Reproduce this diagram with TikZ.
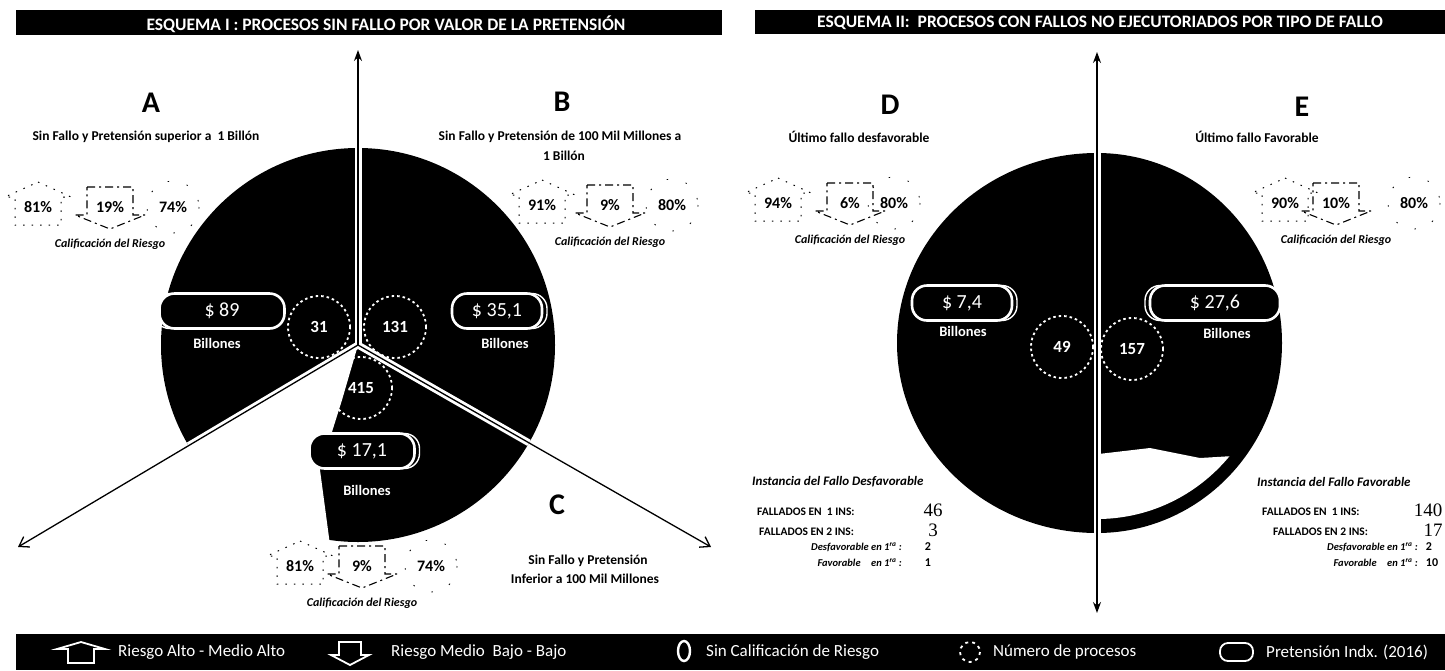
\documentclass[tikz,border=0pt]{standalone}
\usepackage{fontspec}
\setmainfont{Carlito}
\newfontfamily\numfont{Liberation Serif}
\usetikzlibrary{arrows.meta}
\tikzset{
  hdrbar/.style={fill=black},
  hdrtext/.style={text=white,font=\fontsize{17.5}{19}\selectfont\bfseries,inner sep=0pt},
  bigletter/.style={font=\fontsize{30}{32}\selectfont\bfseries,inner sep=0pt},
  capt/.style={font=\fontsize{13.5}{15}\selectfont\bfseries,inner sep=0pt},
  pct/.style={font=\fontsize{16}{17}\selectfont\bfseries,inner sep=0pt},
  califtxt/.style={font=\fontsize{12}{13}\selectfont\bfseries\itshape,inner sep=0pt},
  riskup/.style={draw=black,line width=1pt,dash pattern=on 1.5pt off 7pt},
  riskdown/.style={draw=black,line width=1.1pt,dash pattern=on 8pt off 4pt on 2pt off 4pt},
  riskcirc/.style={draw=black,line width=0.8pt,dash pattern=on 1.5pt off 18pt},
  piefill/.style={fill=black},
  sepband/.style={draw=white,line width=7pt},
  axisline/.style={draw=black,line width=1.3pt},
  numcirc/.style={circle,draw=white,line width=1.8pt,dash pattern=on 2.5pt off 3pt,minimum size=62pt,inner sep=0pt,text=white,font=\fontsize{17}{18}\selectfont\bfseries},
  pillbox/.style={draw=white,line width=2.6pt,fill=black,rounded corners=15pt,text=white,font=\fontsize{20}{22}\selectfont,inner sep=0pt,minimum height=35pt},
  pillghost/.style={draw=white,line width=1.4pt,rounded corners=15pt},
  billtxt/.style={text=white,font=\fontsize{14.5}{15}\selectfont\bfseries,inner sep=0pt},
  insttxt/.style={font=\fontsize{13}{14}\selectfont\bfseries\itshape,inner sep=0pt,anchor=west},
  falltxt/.style={font=\fontsize{11.5}{12}\selectfont\bfseries,inner sep=0pt,anchor=west},
  bignum/.style={font=\numfont\fontsize{19}{20}\selectfont,inner sep=0pt},
  subtxt/.style={font=\fontsize{10.5}{12}\selectfont\bfseries\itshape,inner sep=0pt,anchor=east},
  smallnum/.style={font=\fontsize{12}{13}\selectfont\bfseries,inner sep=0pt},
  legbar/.style={fill=black},
  legtext/.style={text=white,font=\fontsize{17}{18}\selectfont,inner sep=0pt,anchor=west},
  legicon/.style={draw=white,line width=1.8pt},
}
% risk indicator: name, m, y0, dl, dr, left, mid, right
\newcommand\riskind[8]{%
  \begin{scope}[shift={(#2,#3)}]
    \draw[riskup] (#4,-25) -- (#4+33,-10) -- (#4+23,-10) -- (#4+23,18) -- (#4-23,18) -- (#4-23,-10) -- (#4-33,-10) -- cycle;
    \draw[riskdown] (-23,-20) -- (23,-20) -- (23,8) -- (35,8) -- (0,22) -- (-35,8) -- (-23,8) -- cycle;
    \draw[riskcirc] (#5,0) circle (26);
    \node[pct] (#1l) at (#4,0) {#6};
    \node[pct] (#1m) at (0,0) {#7};
    \node[pct] (#1r) at (#5,0) {#8};
    \node[califtxt] (#1c) at (0,37) {Calificación del Riesgo};
  \end{scope}}
% pill: name, x, y, width, ghost dx, text
\newcommand\pillnode[6]{%
  \draw[pillghost] (#2-#4/2+#5,#3-17.5) rectangle (#2+#4/2+#5,#3+17.5);
  \node[pillbox,minimum width=#4pt] (#1) at (#2,#3) {#6};}
\begin{document}
\begin{tikzpicture}[x=1pt,y=-1pt]
\useasboundingbox (0,0) rectangle (1445,670);
% ---------- headers
\fill[hdrbar] (16,10) rectangle (722,35);
\fill[hdrbar] (755,10) rectangle (1445,34);
\node[hdrtext] (h1) at (386,24) {ESQUEMA I : PROCESOS SIN FALLO POR VALOR DE LA PRETENSIÓN};
\node[hdrtext] (h2) at (1100,23) {ESQUEMA II:\ \ PROCESOS CON FALLOS NO EJECUTORIADOS POR TIPO DE FALLO};
% ---------- left pie
\coordinate (cL) at (358,345);
\coordinate (topL) at (358,50);
\coordinate (llL) at (18,547);
\coordinate (lrL) at (711,547);
\fill[piefill] (cL) circle (197);
\begin{scope}
  \clip (cL) -- ++(29.78:200) arc[start angle=29.78,end angle=149.3,radius=200] -- cycle;
  \fill[white] (358,345) -- (342,400) -- (320,470) -- (332,560) -- (100,560) -- (100,345) -- cycle;
\end{scope}
\draw[sepband] (cL) -- ++(-90:197);
\draw[sepband] (cL) -- ++(149.3:197);
\draw[sepband] (cL) -- ++(29.78:197);
\draw[axisline,-{Stealth[length=11pt,width=8pt]}] (cL) -- (topL);
\draw[axisline,-{Straight Barb[length=9pt,width=12pt]}] (cL) -- (llL);
\draw[axisline,-{Straight Barb[length=9pt,width=12pt]}] (cL) -- (lrL);
% labels A B C
\node[bigletter] (A) at (151,103) {A};
\node[capt] (Acap) at (146,137) {Sin Fallo y Pretensión superior a\ \ 1 Billón};
\node[bigletter] (B) at (562,102) {B};
\node[capt] (Bcap1) at (560,137) {Sin Fallo y Pretensión de 100 Mil Millones a};
\node[capt] (Bcap2) at (564,156) {1 Billón};
\node[bigletter] (C) at (557,505) {C};
\node[capt] (Ccap1) at (588,561) {Sin Fallo y Pretensión};
\node[capt] (Ccap2) at (585,579) {Inferior a 100 Mil Millones};
% risk indicators
\riskind{rA}{110}{207}{-72}{63}{81\%}{19\%}{74\%}
\riskind{rB}{610}{205}{-68}{62}{91\%}{9\%}{80\%}
\riskind{rC}{362}{566}{-62}{69}{81\%}{9\%}{74\%}
% pills and counts
\pillnode{pA}{222}{311}{125}{-5}{\$ 89}
\node[billtxt] (bA) at (217,343) {Billones};
\pillnode{pB}{497}{311}{90}{5}{\$ 35,1}
\node[billtxt] (bB) at (505,343) {Billones};
\pillnode{pC}{362}{451}{105}{5}{\$ 17,1}
\node[billtxt] (bC) at (367,490) {Billones};
\node[numcirc] (n31) at (319,327) {31};
\node[numcirc] (n131) at (395,327) {131};
\node[numcirc] (n415) at (361,388) {415};
% ---------- right pie
\coordinate (cR) at (1097,343);
\coordinate (topR) at (1097,52);
\coordinate (botR) at (1097,613);
\fill[piefill] (1097,153) arc[start angle=-90,end angle=-270,x radius=200,y radius=190] -- cycle;
\fill[piefill] (1097,153) arc[start angle=-90,end angle=90,x radius=185,y radius=190] -- cycle;
\begin{scope}
  \clip (1097,167) arc[start angle=-90,end angle=90,x radius=173,y radius=176] -- cycle;
  \fill[white] (1090,455) -- (1150,448) -- (1200,458) -- (1300,452) -- (1300,560) -- (1090,560) -- cycle;
\end{scope}
\draw[sepband] (1097,150) -- (1097,536);
\draw[axisline,{Stealth[length=11pt,width=8pt]}-{Stealth[length=11pt,width=8pt]}] (botR) -- (topR);
\node[bigletter] (D) at (890,105) {D};
\node[capt] (Dcap) at (859,137) {Último fallo desfavorable};
\node[bigletter] (E) at (1302,107) {E};
\node[capt] (Ecap) at (1257,137) {Último fallo Favorable};
\riskind{rD}{850}{203}{-72}{44}{94\%}{6\%}{80\%}
\riskind{rE}{1336}{203}{-51}{78}{90\%}{10\%}{80\%}
\pillnode{pD}{962}{303}{100}{5}{\$ 7,4}
\node[billtxt] (bD) at (963,331) {Billones};
\pillnode{pE}{1215}{303}{130}{-5}{\$ 27,6}
\node[billtxt] (bE) at (1227,333) {Billones};
\node[numcirc] (n49) at (1062,347) {49};
\node[numcirc] (n157) at (1132,349) {157};
% instance blocks
\node[insttxt] (Dinst) at (752,482) {Instancia del Fallo Desfavorable};
\node[falltxt] (Df1) at (757,512) {FALLADOS EN\ \ 1 INS:};
\node[bignum] (Dn1) at (933,510) {46};
\node[falltxt] (Df2) at (759,532) {FALLADOS EN 2 INS:};
\node[bignum] (Dn2) at (933,530) {3};
\node[subtxt] (Dd) at (902,547) {Desfavorable en 1\textsuperscript{ra} :};
\node[smallnum] (Ddn) at (928,547) {2};
\node[subtxt] (Dv) at (902,563) {Favorable\quad en 1\textsuperscript{ra} :};
\node[smallnum] (Dvn) at (928,563) {1};
\node[insttxt] (Einst) at (1257,482) {Instancia del Fallo Favorable};
\node[falltxt] (Ef1) at (1262,512) {FALLADOS EN\ \ 1 INS:};
\node[bignum] (En1) at (1428,510) {140};
\node[falltxt] (Ef2) at (1273,532) {FALLADOS EN 2 INS:};
\node[bignum] (En2) at (1433,530) {17};
\node[subtxt] (Ed) at (1418,547) {Desfavorable en 1\textsuperscript{ra} :};
\node[smallnum] (Edn) at (1429,547) {2};
\node[subtxt] (Ev) at (1418,563) {Favorable\quad en 1\textsuperscript{ra} :};
\node[smallnum] (Evn) at (1432,563) {10};
% ---------- legend
\fill[legbar] (16,634) rectangle (1445,670);
\draw[legicon] (81,642) -- (105,649) -- (94,649) -- (94,663) -- (68,663) -- (68,649) -- (57,649) -- cycle;
\node[legtext] (L1) at (118,652) {Riesgo Alto - Medio Alto};
\draw[legicon] (339,642) -- (361,642) -- (361,655) -- (369,655) -- (350,665) -- (331,655) -- (339,655) -- cycle;
\node[legtext] (L2) at (391,652) {Riesgo Medio\ \ Bajo - Bajo};
\draw[legicon,line width=2.4pt] (684,651) ellipse [x radius=6,y radius=10];
\node[legtext] (L3) at (706,652) {Sin Calificación de Riesgo};
\draw[legicon,dash pattern=on 3pt off 4pt] (970,652) circle (10);
\node[legtext] (L4) at (993,652) {Número de procesos};
\draw[legicon,rounded corners=8pt] (1220,643) rectangle (1253,661);
\node[legtext] (L5) at (1266,652) {Pretensión Indx. (2016)};
\end{tikzpicture}
\end{document}
